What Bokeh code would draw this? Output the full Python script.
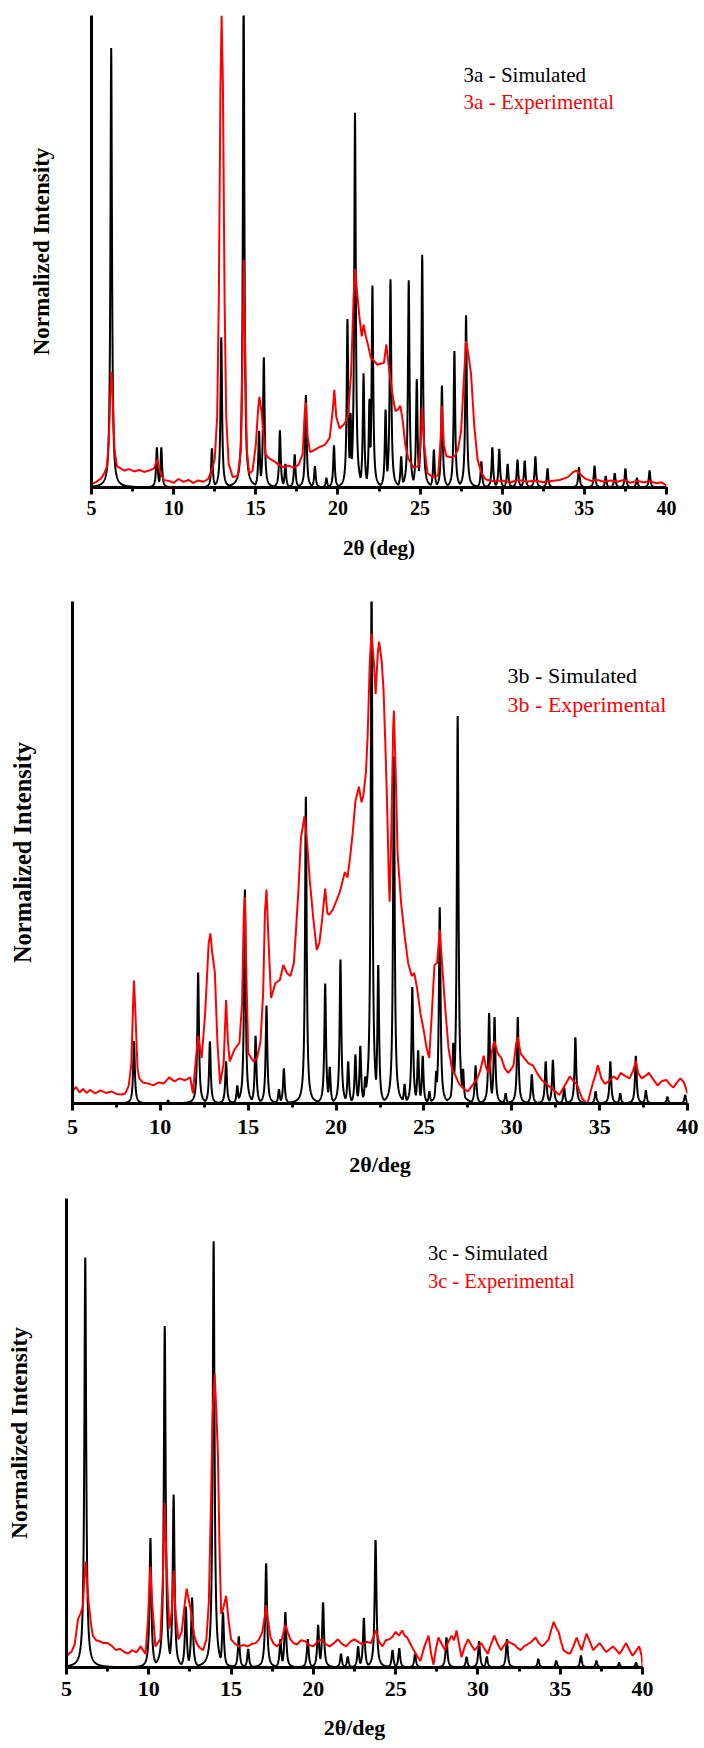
import numpy as np
from bokeh.plotting import figure
from bokeh.models import Range1d, SingleIntervalTicker, FixedTicker, Label
from bokeh.embed import file_html
from bokeh.resources import INLINE

# ---------------- data ----------------
# Panel 3a: simulated peak positions (2theta) and heights (normalized %)
sim_a_pos = [6.2, 8.98, 9.25, 12.33, 12.9, 14.26, 15.2, 15.49, 16.47, 16.8, 17.37, 18.05, 18.6, 19.3,
             19.76, 20.58, 20.77, 21.04, 21.56, 21.92, 22.1, 22.9, 23.2, 23.85, 24.31, 24.8, 25.13,
             25.84, 26.33, 27.09, 27.8, 28.73, 29.4, 29.82, 30.33, 30.93, 31.37, 32.02, 32.76, 34.67,
             35.62, 36.3, 36.85, 37.5, 38.2, 38.97]
sim_a_h = [93.1, 8.5, 8.5, 8.3, 31.8, 105, 12, 27.6, 12.1, 5, 7, 19.6, 4.5, 2, 8.9, 35.7, 15.8,
           79.4, 24.2, 18.8, 42.8, 16.5, 44.1, 6.6, 43.9, 23, 49.3, 8, 21.6, 28.9, 36.5, 5.5, 8.5,
           8.2, 5, 5.9, 5.7, 6.6, 4, 4.3, 4.6, 2.4, 3, 4, 2, 3.6]
exp_a_x = [5.0, 5.3, 5.6, 5.8, 5.95, 6.05, 6.15, 6.22, 6.3, 6.4, 6.55, 6.7, 7.0, 7.3, 7.6, 7.9, 8.2,
           8.5, 8.8, 9.0, 9.15, 9.4, 9.7, 10.0, 10.3, 10.6, 10.9, 11.2, 11.5, 11.8, 12.1, 12.3, 12.5,
           12.65, 12.75, 12.85, 12.92, 13.0, 13.1, 13.2, 13.35, 13.6, 13.9, 14.1, 14.2, 14.27, 14.35,
           14.45, 14.6, 14.8, 15.0, 15.15, 15.22, 15.35, 15.45, 15.6, 15.8, 16.1, 16.4, 16.7, 17.0,
           17.3, 17.6, 17.85, 17.98, 18.05, 18.15, 18.3, 18.6, 18.9, 19.2, 19.5, 19.7, 19.78, 19.9,
           20.1, 20.4, 20.6, 20.8, 20.95, 21.04, 21.15, 21.3, 21.45, 21.56, 21.7, 21.85, 22.0, 22.2,
           22.4, 22.6, 22.8, 22.95, 23.05, 23.15, 23.35, 23.5, 23.65, 23.8, 23.95, 24.1, 24.3, 24.6,
           24.9, 25.05, 25.13, 25.25, 25.45, 25.8, 26.1, 26.25, 26.33, 26.45, 26.6, 26.9, 27.1, 27.3,
           27.5, 27.65, 27.8, 27.95, 28.1, 28.3, 28.5, 28.75, 29.0, 29.5, 30.0, 30.5, 31.0, 31.5,
           32.0, 32.5, 33.0, 33.5, 34.0, 34.3, 34.5, 34.7, 35.0, 35.4, 35.8, 36.2, 36.6, 37.0, 37.4,
           37.8, 38.2, 38.6, 39.0, 39.4, 39.7, 40.0]
exp_a_y = [0.7, 1.2, 2.0, 3.2, 4.5, 10, 20, 24.5, 18, 8, 4.5, 4.2, 3.6, 3.9, 3.4, 3.7, 3.3, 3.6, 4.0,
           5.9, 3.5, 1.6, 1.4, 1.0, 1.8, 1.2, 1.6, 1.0, 1.5, 1.2, 1.8, 3.5, 6, 15, 40, 85, 100, 85,
           40, 15, 5, 2.2, 2.5, 8, 30, 48.2, 30, 8, 3, 3.5, 9, 17, 19.2, 16, 12, 7, 6.2, 5.6, 4.8,
           4.3, 4.6, 4.2, 4.8, 7, 16, 18, 11, 7.5, 8, 8.6, 9, 10.5, 17, 20.7, 15, 12.5, 13.5, 15, 24,
           40, 46.3, 42, 36.4, 32, 34.5, 32, 29.9, 27.5, 26.8, 26, 26.2, 26.4, 30.3, 27, 24, 19,
           16.2, 16.5, 17.3, 14, 9, 6, 4.3, 4.5, 10, 16.9, 9, 3, 2.2, 2.6, 10, 17.3, 9, 6.6, 6.4,
           6.6, 8, 12, 22, 31, 28, 24.2, 13, 5.9, 3, 1.7, 1.3, 1.5, 1.1, 1.6, 1.2, 1.5, 1.1, 1.4,
           1.6, 2.2, 3.2, 3.6, 3.0, 2.0, 1.4, 1.6, 1.2, 1.5, 1.2, 1.6, 1.0, 1.4, 1.1, 1.3, 0.9, 1.1,
           0.4]

# Panel 3b
sim_b_pos = [8.5, 10.44, 12.15, 12.82, 13.74, 14.38, 14.81, 15.42, 16.04, 16.75, 17.03, 18.28,
             19.38, 19.64, 20.25, 20.69, 21.1, 21.38, 21.66, 22.02, 22.4, 23.29, 23.9, 24.34, 24.67,
             24.93, 25.31, 25.7, 25.9, 26.67, 26.92, 27.23, 27.94, 28.71, 29.02, 29.65, 30.34, 31.14,
             31.93, 32.34, 32.98, 33.62, 34.77, 35.61, 36.17, 37.06, 37.63, 38.85, 39.87]
sim_b_h = [12.4, 0.6, 26.1, 12.4, 8.4, 3.6, 42.6, 13.5, 19.5, 2.8, 7, 61.1, 23.9, 7.3, 28.7, 8.4,
           9.8, 11.5, 5.4, 105, 27.6, 69.1, 3.9, 23.2, 10.6, 9.5, 2.4, 6.5, 39.1, 12.1, 77.2, 6.9,
           7.6, 18, 17.2, 2, 17.2, 5.8, 8.4, 8.7, 3.2, 13.2, 2.4, 8.4, 2, 9.5, 2.6, 1.3, 1.7]
exp_b_x = [5.0, 5.2, 5.4, 5.6, 5.8, 6.0, 6.3, 6.6, 6.9, 7.2, 7.5, 7.8, 8.0, 8.2, 8.35, 8.45, 8.5,
           8.58, 8.7, 8.8, 9.0, 9.3, 9.6, 9.9, 10.2, 10.5, 10.8, 11.1, 11.4, 11.7, 11.85, 12.0,
           12.15, 12.35, 12.55, 12.75, 12.85, 12.95, 13.1, 13.25, 13.4, 13.6, 13.74, 13.85, 13.95,
           14.2, 14.5, 14.65, 14.75, 14.81, 14.9, 15.0, 15.3, 15.5, 15.7, 15.85, 15.95, 16.04, 16.15,
           16.3, 16.55, 16.8, 17.0, 17.2, 17.4, 17.6, 17.7, 17.85, 18.0, 18.2, 18.35, 18.5, 18.7,
           18.9, 19.05, 19.2, 19.38, 19.5, 19.6, 19.8, 20.0, 20.2, 20.35, 20.5, 20.65, 20.8, 20.95,
           21.1, 21.3, 21.45, 21.55, 21.7, 21.8, 21.92, 22.02, 22.15, 22.25, 22.38, 22.45, 22.6,
           22.7, 22.8, 22.9, 23.0, 23.05, 23.15, 23.25, 23.29, 23.4, 23.5, 23.7, 23.9, 24.1, 24.3,
           24.45, 24.6, 24.8, 25.0, 25.15, 25.3, 25.45, 25.6, 25.75, 25.9, 26.05, 26.2, 26.4, 26.6,
           26.8, 27.0, 27.25, 27.5, 27.75, 28.0, 28.2, 28.4, 28.55, 28.7, 28.85, 29.0, 29.2, 29.4,
           29.6, 29.8, 30.0, 30.1, 30.25, 30.34, 30.5, 30.7, 30.95, 31.2, 31.45, 31.7, 31.95, 32.2,
           32.45, 32.7, 33.0, 33.3, 33.5, 33.7, 34.0, 34.3, 34.6, 34.75, 34.9, 35.1, 35.3, 35.55,
           35.8, 36.0, 36.2, 36.45, 36.7, 36.9, 37.06, 37.2, 37.4, 37.6, 37.8, 38.05, 38.3, 38.55,
           38.8, 39.0, 39.2, 39.4, 39.6, 39.8, 40.0]
exp_b_y = [2.4, 3.3, 2.2, 2.9, 2.1, 2.7, 2.0, 2.6, 2.1, 2.4, 1.9, 1.8, 2.0, 3.5, 8, 20, 24.5, 18, 7,
           5, 4.2, 4.0, 3.6, 4.2, 4.0, 5.2, 4.4, 5.0, 4.6, 5.2, 2.0, 8, 13.5, 9.1, 18, 32, 33.9, 30,
           26.1, 12, 3.9, 8, 20.6, 12, 8.4, 10.6, 12.1, 20, 38, 41.1, 25, 10, 8.4, 9, 12.4, 22, 38,
           42.6, 33, 21, 24, 24.6, 27.6, 26, 25.4, 28, 33.5, 42, 52.8, 57.2, 52, 44.6, 37, 30.6, 32,
           36.5, 42.8, 38, 37.6, 38.5, 40.2, 42, 44, 46.1, 45, 49.1, 54, 60.2, 63.1, 60, 61.3, 66,
           73.5, 88, 93.6, 88, 81.6, 90, 92, 88, 82.4, 72, 60.2, 45, 40.2, 55, 75, 78.3, 65, 49.8,
           40, 33.5, 28, 25.4, 26, 23.2, 18, 14.3, 11, 9.1, 18, 27.6, 28, 34.6, 27, 19.5, 11, 6.9,
           5.5, 3.9, 3, 2.4, 3.6, 4.7, 6.5, 9.5, 7, 6.1, 10, 12.4, 10, 9.1, 7, 6.1, 7, 7.6, 12,
           13.2, 10, 9.1, 8, 7.6, 6, 4.7, 4, 3.2, 2.5, 1.7, 3.5, 5.4, 4.5, 3.9, 1.0, -0.1, 3.9, 5.5,
           7.6, 5, 3.9, 4.5, 5.4, 4.8, 6.1, 5.5, 5.0, 6.5, 8.4, 6, 5.0, 5.5, 6.1, 4.8, 3.6, 4.5, 4.7,
           3.8, 3.2, 4.2, 5.0, 4.2, 2.0]

# Panel 3c
sim_c_pos = [6.14, 10.1, 10.97, 11.51, 12.25, 12.63, 13.94, 14.51, 15.47, 16.04, 17.13, 18.0, 18.3,
             19.66, 20.29, 20.59, 21.68, 22.09, 22.72, 23.07, 23.78, 24.81, 25.22, 26.18, 28.09,
             29.31, 30.07, 30.54, 31.76, 33.67, 34.76, 36.26, 37.2, 38.58, 39.61]
sim_c_h = [87.4, 27.6, 72.8, 36.9, 13, 14.9, 90.9, 11.8, 6.6, 3.9, 22.2, 6, 11.8, 6, 9.1, 13.9, 2.9,
           2.3, 4.5, 10.6, 27.2, 3.7, 4.1, 2.9, 6.4, 2.2, 5.6, 2.3, 6, 1.8, 1.4, 2.5, 1.4, 1, 1]
exp_c_x = [5.0, 5.15, 5.3, 5.5, 5.7, 5.85, 6.0, 6.1, 6.16, 6.25, 6.35, 6.5, 6.6, 6.8, 7.0, 7.25,
           7.5, 7.75, 8.0, 8.25, 8.5, 8.75, 9.0, 9.25, 9.5, 9.8, 9.95, 10.05, 10.1, 10.2, 10.4,
           10.7, 10.85, 10.97, 11.1, 11.25, 11.4, 11.51, 11.62, 11.8, 12.0, 12.2, 12.3, 12.45, 12.6,
           12.75, 12.9, 13.1, 13.3, 13.5, 13.65, 13.78, 13.88, 14.0, 14.1, 14.2, 14.3, 14.4, 14.55,
           14.7, 14.85, 15.0, 15.25, 15.5, 15.75, 16.0, 16.25, 16.5, 16.7, 16.9, 17.05, 17.13,
           17.25, 17.4, 17.6, 17.8, 18.05, 18.3, 18.45, 18.6, 18.8, 19.0, 19.25, 19.5, 19.75, 20.0,
           20.25, 20.5, 20.75, 21.0, 21.25, 21.5, 21.75, 22.0, 22.25, 22.5, 22.75, 23.0, 23.25,
           23.5, 23.8, 24.0, 24.2, 24.4, 24.6, 24.8, 25.0, 25.2, 25.4, 25.55, 25.7, 25.9, 26.1,
           26.3, 26.5, 26.75, 27.0, 27.15, 27.3, 27.45, 27.6, 27.8, 28.0, 28.2, 28.4, 28.55, 28.7,
           28.85, 29.0, 29.2, 29.4, 29.6, 29.8, 30.0, 30.2, 30.4, 30.6, 30.8, 31.0, 31.2, 31.4,
           31.6, 31.8, 32.0, 32.2, 32.4, 32.6, 32.8, 33.0, 33.25, 33.5, 33.7, 33.9, 34.1, 34.3,
           34.45, 34.6, 34.75, 34.9, 35.05, 35.2, 35.4, 35.6, 35.8, 36.0, 36.15, 36.3, 36.45, 36.6,
           36.8, 37.0, 37.2, 37.4, 37.6, 37.8, 38.0, 38.2, 38.4, 38.6, 38.8, 39.0, 39.2, 39.4, 39.6,
           39.8, 39.95, 40.0]
exp_c_y = [2.2, 3.0, 3.3, 5, 10.3, 11.5, 13, 20, 22.6, 18, 13.7, 9, 6.8, 5.8, 5.6, 5.2, 5.2, 4.6,
           3.7, 4.0, 3.3, 3.0, 3.7, 3.2, 4.5, 2.9, 10, 18, 21.6, 14, 4.5, 6.0, 18, 35, 20, 8.3, 12,
           20.7, 12, 6.0, 7.6, 14, 16.8, 14, 11.4, 7, 5.2, 4.2, 3.7, 6, 14, 35, 53.9, 62.5, 55,
           45.4, 25, 11.4, 13, 15.3, 10, 6.0, 5, 4.5, 4.8, 4.5, 5, 5.2, 6, 7.6, 11, 13.3, 10, 6.4,
           5, 4.5, 5.5, 9.1, 7.5, 6.0, 5.2, 4.9, 5.8, 5.6, 4.8, 4.5, 5.5, 6.0, 5, 4.5, 5.2, 6.0, 5,
           4.5, 5.5, 6.0, 5.4, 4.9, 5.5, 5.2, 7.9, 5.5, 4.5, 5.8, 6.0, 6.5, 7.6, 6.8, 7.9, 6.8, 6.4,
           5, 3.7, 2.5, 1.4, 4.5, 6.8, 3, 0.6, 4, 6.4, 5, 3.7, 5.5, 6.8, 5.8, 7.9, 5, 2.2, 4.5, 6.0,
           4.8, 3.7, 4.5, 5.2, 4.0, 2.9, 5, 6.8, 5, 3.7, 4.8, 5.6, 5.2, 4.9, 4.2, 3.7, 4.5, 4.9,
           5.5, 6.4, 5.2, 4.5, 5.2, 6.0, 8, 9.7, 8.5, 7.6, 5.5, 3.7, 3.2, 2.9, 4.5, 6.4, 5, 3.7,
           5.5, 7.2, 5.5, 3.7, 4.5, 5.2, 4.2, 3.3, 3.9, 4.5, 3.8, 2.9, 4.0, 5.2, 3.8, 2.5, 3.5, 4.5,
           2.5, 0.2]

x_ticks = [5, 10, 15, 20, 25, 30, 35, 40]

FONT = "Liberation Serif"
RED = "#ff0000"


def sim_curve(pos, h, gamma):
    # peak list rendered as narrow Lorentzian-shaped lines
    x = np.arange(5.0, 40.0001, 0.01)
    y = np.zeros_like(x)
    for p, hh in zip(pos, h):
        y = np.maximum(y, hh / (1.0 + ((x - p) / gamma) ** 2))
    return x, y


def panel(sim_pos, sim_h, ex, ey, name, xlabel, fw, fh, bl, bt, br, bb,
          tick_fs, lab_fs, ylab_fs, leg_fs, ylab_standoff, tick_standoff, xlab_standoff,
          leg_x, leg_y1, leg_y2, gamma):
    p = figure(frame_width=fw, frame_height=fh, min_border_left=bl, min_border_top=bt,
               min_border_right=br, min_border_bottom=bb, output_backend="svg",
               toolbar_location=None, x_range=Range1d(5, 40), y_range=Range1d(0, 100))
    p.outline_line_color = None
    p.xgrid.visible = False
    p.ygrid.visible = False
    p.background_fill_color = "white"
    p.border_fill_color = "white"

    sx, sy = sim_curve(sim_pos, sim_h, gamma)
    p.line(sx, sy, line_color="black", line_width=2)
    p.line(ex, ey, line_color=RED, line_width=2)

    xa = p.xaxis[0]
    xa.ticker = SingleIntervalTicker(interval=5, num_minor_ticks=2)
    xa.axis_line_width = 3
    xa.axis_line_color = "black"
    xa.major_tick_line_width = 3
    xa.major_tick_out = 7
    xa.major_tick_in = 0
    xa.minor_tick_line_width = 3
    xa.minor_tick_out = 4
    xa.minor_tick_in = 0
    xa.major_label_text_font = FONT
    xa.major_label_text_font_style = "bold"
    xa.major_label_text_font_size = f"{tick_fs}px"
    xa.major_label_text_color = "black"
    xa.major_label_standoff = tick_standoff
    xa.axis_label = xlabel
    xa.axis_label_text_font = FONT
    xa.axis_label_text_font_style = "bold"
    xa.axis_label_text_font_size = f"{lab_fs}px"
    xa.axis_label_text_color = "black"
    xa.axis_label_standoff = xlab_standoff

    ya = p.yaxis[0]
    ya.ticker = FixedTicker(ticks=[])
    ya.axis_line_width = 3
    ya.axis_line_color = "black"
    ya.major_tick_out = 0
    ya.major_tick_in = 0
    ya.minor_tick_out = 0
    ya.minor_tick_in = 0
    ya.major_label_standoff = 0
    ya.axis_label = "Normalized Intensity"
    ya.axis_label_text_font = FONT
    ya.axis_label_text_font_style = "bold"
    ya.axis_label_text_font_size = f"{ylab_fs}px"
    ya.axis_label_text_color = "black"
    ya.axis_label_standoff = ylab_standoff

    p.add_layout(Label(x=leg_x, y=leg_y1, text=f"{name} - Simulated", text_font=FONT,
                       text_font_size=f"{leg_fs}px", text_color="black",
                       text_baseline="middle", text_align="left"))
    p.add_layout(Label(x=leg_x, y=leg_y2, text=f"{name} - Experimental", text_font=FONT,
                       text_font_size=f"{leg_fs}px", text_color=RED,
                       text_baseline="middle", text_align="left"))
    return p


p1 = panel(sim_a_pos, sim_a_h, exp_a_x, exp_a_y, "3a", "2θ (deg)",
           575, 472, 91, 15, 38, 81, 20, 21, 23, 21, 38, 6, 18, 27.65, 87.5, 81.75, 0.055)
p2 = panel(sim_b_pos, sim_b_h, exp_b_x, exp_b_y, "3b", "2θ/deg",
           615, 502, 72, 33, 17, 83, 22, 22, 24.5, 22, 37, 9, 15, 29.76, 85.2, 79.4, 0.055)
p3 = panel(sim_c_pos, sim_c_h, exp_c_x, exp_c_y, "3c", "2θ/deg",
           576, 469, 66, 12, 62, 81, 22, 22, 23.5, 20.5, 35, 7, 16, 26.96, 88.3, 82.5, 0.065)

# three independent roots stacked on the page (no frame alignment between panels)
open("out.html", "w").write(file_html([p1, p2, p3], INLINE))
